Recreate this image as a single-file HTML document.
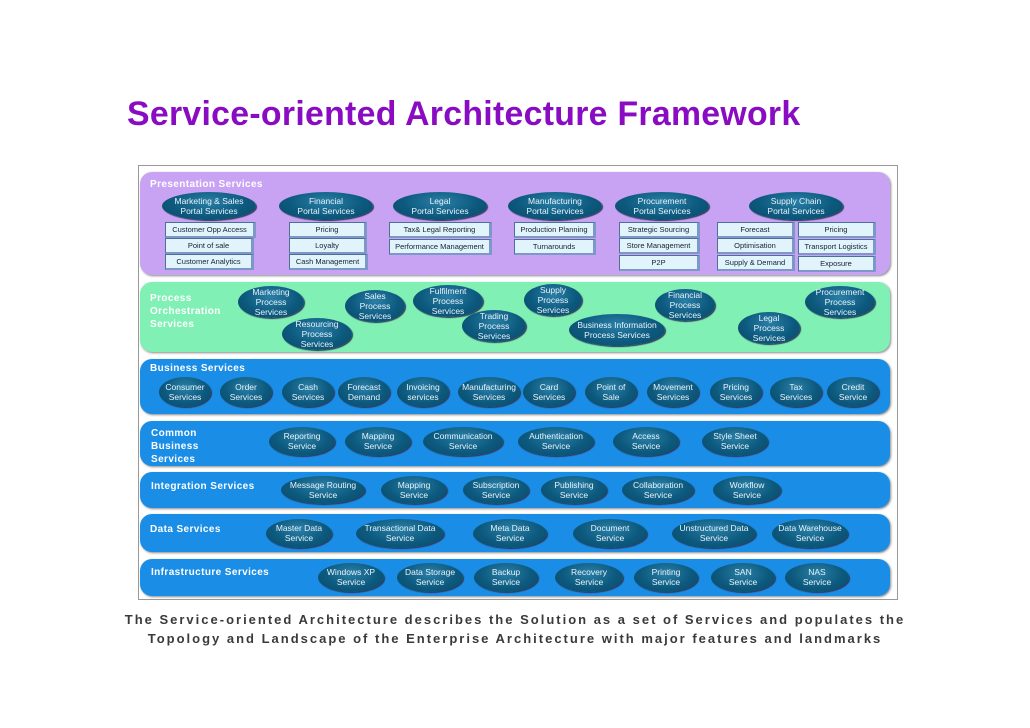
<!DOCTYPE html>
<html><head><meta charset="utf-8"><style>
body{margin:0;width:1030px;height:728px;background:#fff;position:relative;overflow:hidden;font-family:"Liberation Sans",sans-serif}
.t{position:absolute;left:127px;top:95px;font-size:33.8px;font-weight:bold;color:#8a0cc2;white-space:nowrap;letter-spacing:0.3px}
.frame{position:absolute;left:138px;top:165px;width:758px;height:433px;border:1px solid #999}
.band{position:absolute;left:140px;width:750px;border-radius:12px;box-shadow:1px 1px 2px #888}
.lab{position:absolute;color:#fff;font-weight:bold;font-size:10px;line-height:13px;letter-spacing:0.4px}
.e{position:absolute;border-radius:50%;background:radial-gradient(ellipse at 50% 35%,#2a7fa6 0%,#0d5a7f 55%,#084863 100%);color:#e8f2f8;font-size:8.5px;line-height:10px;text-align:center;display:flex;align-items:center;justify-content:center;box-shadow:1px 1px 1px #335}
.b{position:absolute;height:13px;background:#e2f4fb;border:1px solid #4d6f9a;border-right:3px solid #7d98c8;border-bottom:2px solid #7d98c8;font-size:7.5px;line-height:13px;text-align:center;color:#123;white-space:nowrap;overflow:hidden}
.cap{position:absolute;width:1030px;text-align:center;font-size:13px;font-weight:bold;color:#3a3a3a;letter-spacing:2px;white-space:nowrap}
</style></head><body>
<div class="t">Service-oriented Architecture Framework</div>
<div class="frame"></div>
<div class="band" style="top:172px;height:103px;background:#c9a3f3"></div>
<div class="band" style="top:282px;height:70px;background:#80f0b4"></div>
<div class="band" style="top:359px;height:55px;background:#1a8de6"></div>
<div class="band" style="top:421px;height:45px;background:#1a8de6"></div>
<div class="band" style="top:472px;height:36px;background:#1a8de6"></div>
<div class="band" style="top:514px;height:38px;background:#1a8de6"></div>
<div class="band" style="top:559px;height:37px;background:#1a8de6"></div>
<div class="lab" style="left:150px;top:178px">Presentation Services</div>
<div class="lab" style="left:150px;top:292px;line-height:13px">Process<br>Orchestration<br>Services</div>
<div class="lab" style="left:150px;top:362px">Business Services</div>
<div class="lab" style="left:151px;top:427px">Common<br>Business<br>Services</div>
<div class="lab" style="left:151px;top:480px">Integration Services</div>
<div class="lab" style="left:150px;top:523px">Data Services</div>
<div class="lab" style="left:151px;top:566px">Infrastructure Services</div>
<div class="cap" style="top:612px">The Service-oriented Architecture describes the Solution as a set of Services and populates the</div>
<div class="cap" style="top:631px">Topology and Landscape of the Enterprise Architecture with major features and landmarks</div>
<div id="c"></div>
<script>
var c=document.getElementById('c'),h='';
function E(x,y,w,hh,t){h+='<div class="e" style="left:'+(x-w/2)+'px;top:'+(y-hh/2)+'px;width:'+w+'px;height:'+hh+'px">'+t+'</div>';}
function B(x1,x2,y,t){h+='<div class="b" style="left:'+x1+'px;top:'+y+'px;width:'+(x2-x1-4)+'px">'+t+'</div>';}
var P=[[209,'Marketing &amp; Sales<br>Portal Services'],[326,'Financial<br>Portal Services'],[440,'Legal<br>Portal Services'],[555,'Manufacturing<br>Portal Services'],[662,'Procurement<br>Portal Services'],[796,'Supply Chain<br>Portal Services']];
P.forEach(function(p){E(p[0],206,94,28,p[1]);});
B(165,256,222,'Customer Opp Access');B(165,254,238,'Point of sale');B(165,254,254,'Customer Analytics');
B(289,367,222,'Pricing');B(289,367,238,'Loyalty');B(289,368,254,'Cash Management');
B(389,492,222,'Tax&amp; Legal Reporting');B(389,492,239,'Performance Management');
B(514,596,222,'Production Planning');B(514,596,239,'Turnarounds');
B(619,700,222,'Strategic Sourcing');B(619,700,238,'Store Management');B(619,700,255,'P2P');
B(717,795,222,'Forecast');B(717,795,238,'Optimisation');B(717,795,255,'Supply &amp; Demand');
B(798,876,222,'Pricing');B(798,876,239,'Transport Logistics');B(798,876,256,'Exposure');
[[271,302,66,'Marketing<br>Process<br>Services'],[317,334,70,'Resourcing<br>Process<br>Services'],[375,306,60,'Sales<br>Process<br>Services'],[448,301,70,'Fulfilment<br>Process<br>Services'],[494,326,64,'Trading<br>Process<br>Services'],[553,300,58,'Supply<br>Process<br>Services'],[617,330,96,'Business Information<br>Process Services'],[685,305,60,'Financial<br>Process<br>Services'],[769,328,62,'Legal<br>Process<br>Services'],[840,302,70,'Procurement<br>Process<br>Services']].forEach(function(p){E(p[0],p[1],p[2],32,p[3]);});
[[185,'Consumer<br>Services'],[246,'Order<br>Services'],[308,'Cash<br>Services'],[364,'Forecast<br>Demand'],[423,'Invoicing<br>services'],[489,'Manufacturing<br>Services'],[549,'Card<br>Services'],[611,'Point of<br>Sale'],[673,'Movement<br>Services'],[736,'Pricing<br>Services'],[796,'Tax<br>Services'],[853,'Credit<br>Service']].forEach(function(p){E(p[0],392,p[1].length>22?62:52,30,p[1]);});
[[302,66,'Reporting<br>Service'],[378,66,'Mapping<br>Service'],[463,80,'Communication<br>Service'],[556,76,'Authentication<br>Service'],[646,66,'Access<br>Service'],[735,66,'Style Sheet<br>Service']].forEach(function(p){E(p[0],441,p[1],29,p[2]);});
[[323,84,'Message Routing<br>Service'],[414,66,'Mapping<br>Service'],[496,66,'Subscription<br>Service'],[574,66,'Publishing<br>Service'],[658,72,'Collaboration<br>Service'],[747,68,'Workflow<br>Service']].forEach(function(p){E(p[0],490,p[1],28,p[2]);});
[[299,66,'Master Data<br>Service'],[400,88,'Transactional Data<br>Service'],[510,74,'Meta Data<br>Service'],[610,74,'Document<br>Service'],[714,84,'Unstructured Data<br>Service'],[810,76,'Data Warehouse<br>Service']].forEach(function(p){E(p[0],533,p[1],29,p[2]);});
[[351,66,'Windows XP<br>Service'],[430,66,'Data Storage<br>Service'],[506,64,'Backup<br>Service'],[589,68,'Recovery<br>Service'],[666,64,'Printing<br>Service'],[743,64,'SAN<br>Service'],[817,64,'NAS<br>Service']].forEach(function(p){E(p[0],577,p[1],29,p[2]);});
c.innerHTML=h;
</script>
</body></html>
